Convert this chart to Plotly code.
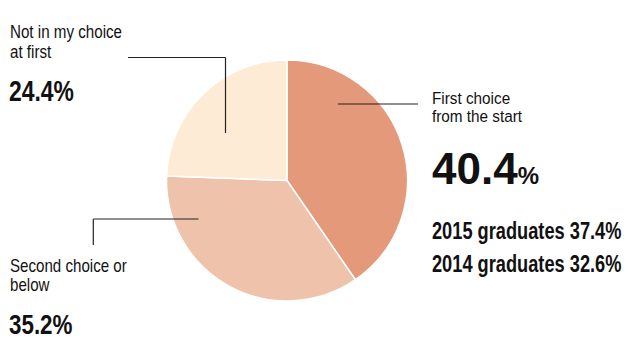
import json
import plotly.graph_objects as go

# Survey shares: when did graduates decide on their employer
labels = ["First choice from the start", "Second choice or below", "Not in my choice at first"]
shares = [40.4, 35.2, 24.4]
colors = ["#E3997A", "#EFC2AB", "#FDEBD6"]
prev_years = ["2015 graduates", "2014 graduates"]
prev_shares = [37.4, 32.6]

W, H = 636, 350
FONT = "Liberation Sans, Arial, sans-serif"
INK = "#111111"

fig = go.Figure(go.Pie(
    labels=labels,
    values=shares,
    marker=dict(colors=colors, line=dict(color="white", width=1.5)),
    sort=False,
    direction="clockwise",
    rotation=0,
    textinfo="none",
    hoverinfo="label+value",
    domain=dict(x=[0.2618, 0.6408], y=[0.14, 0.8286]),
    showlegend=False,
))

# horizontal squeeze applied to each annotation (condensed type look)
squeeze = []


def text(x, y, s, size, bold=False, sx=1.0):
    # x: left edge, y: vertical middle of the caps, both in pixels from top-left
    fig.add_annotation(
        x=x / W, y=1 - y / H, xref="paper", yref="paper",
        text=f"<b>{s}</b>" if bold else s,
        showarrow=False, xanchor="left", yanchor="middle", align="left",
        font=dict(family=FONT, size=size, color=INK), borderpad=0,
    )
    squeeze.append(sx)


def line(points):
    for (x0, y0), (x1, y1) in zip(points[:-1], points[1:]):
        fig.add_shape(type="line", xref="paper", yref="paper",
                      x0=x0 / W, y0=1 - y0 / H, x1=x1 / W, y1=1 - y1 / H,
                      line=dict(color="#222222", width=1.2))


# Leader lines
line([(128, 57.5), (225.5, 57.5), (225.5, 133)])
line([(338, 104), (418, 104)])
line([(93.3, 245), (93.3, 219), (198.5, 219)])

# Not in my choice at first
text(8.5, 32, "Not in my choice", 18.5, sx=0.82)
text(8.5, 51.5, "at first", 18.5, sx=0.82)
text(8, 90.5, f"{shares[2]}%", 29, True, sx=0.79)

# First choice from the start
text(430.5, 98.3, "First choice", 17, sx=0.9)
text(430.5, 116.8, "from the start", 17, sx=0.9)
text(430.5, 168, f"{shares[0]}<span style='font-size:24px'>%</span>", 44, True, sx=1.0)
text(431, 230, f"{prev_years[0]} {prev_shares[0]}%", 24, True, sx=0.76)
text(431, 263.3, f"{prev_years[1]} {prev_shares[1]}%", 24, True, sx=0.76)

# Second choice or below
text(8.5, 265.6, "Second choice or", 18, sx=0.84)
text(8.5, 285.3, "below", 18, sx=0.84)
text(8, 324.5, f"{shares[1]}%", 28, True, sx=0.8)

fig.update_layout(
    width=W, height=H, margin=dict(l=0, r=0, t=0, b=0),
    paper_bgcolor="white", plot_bgcolor="white",
)

post = """
var gd = document.getElementById('{plot_id}');
var sx = %s;
function condense() {
  sx.forEach(function (s, i) {
    var t = gd.querySelector('g.annotation[data-index="' + i + '"] text.annotation-text');
    if (!t) return;
    t.style.transformBox = 'fill-box';
    t.style.transformOrigin = '0 50%%';
    t.style.transform = 'scaleX(' + s + ')';
  });
}
condense();
gd.on('plotly_afterplot', condense);
""" % json.dumps(squeeze)

fig.write_html("out.html", post_script=post)
